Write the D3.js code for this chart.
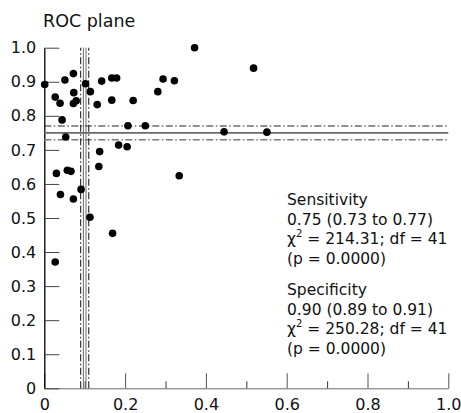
<!DOCTYPE html>
<html lang="en">
<head>
    <meta charset="UTF-8">
    <style>
        body { margin: 0; background: #fff; }
        text { font-family: "DejaVu Sans", sans-serif; fill: #111; }
    </style>
</head>
<body>
    <svg width="461" height="413"></svg>
    <script src="https://d3js.org/d3.v7.min.js"></script>
    <script>
        // study points: false positive rate (1 - specificity) and sensitivity
        let fpr = [0.001, 0.027, 0.039, 0.051, 0.072, 0.073, 0.072, 0.079, 0.044, 0.053,
            0.030, 0.057, 0.066, 0.040, 0.072, 0.091, 0.102, 0.114, 0.131, 0.142,
            0.137, 0.135, 0.167, 0.179, 0.167, 0.220, 0.184, 0.205, 0.207, 0.250,
            0.281, 0.294, 0.322, 0.334, 0.372, 0.445, 0.518, 0.551, 0.113, 0.169, 0.027]
        let sens = [0.892, 0.855, 0.837, 0.905, 0.924, 0.868, 0.836, 0.844, 0.788, 0.738,
            0.631, 0.640, 0.637, 0.569, 0.556, 0.584, 0.894, 0.871, 0.833, 0.902,
            0.695, 0.651, 0.911, 0.911, 0.846, 0.845, 0.714, 0.709, 0.771, 0.771,
            0.871, 0.908, 0.903, 0.624, 1.000, 0.753, 0.940, 0.752, 0.502, 0.455, 0.371]

        // pooled estimates (lower, point, upper)
        let sensPooled = [0.73, 0.75, 0.77]
        let fprPooled = [0.09, 0.10, 0.11]   // 1 - specificity (0.91, 0.90, 0.89)

        let yTicks = [0, 0.1, 0.2, 0.3, 0.4, 0.5, 0.6, 0.7, 0.8, 0.9, 1.0]
        let xMajor = [0, 0.2, 0.4, 0.6, 0.8, 1.0]
        let xMinor = [0.1, 0.3, 0.5, 0.7, 0.9]

        let sensText = ["Sensitivity", "0.75 (0.73 to 0.77)", "χ|2| = 214.31; df = 41", "(p = 0.0000)"]
        let specText = ["Specificity", "0.90 (0.89 to 0.91)", "χ|2| = 250.28; df = 41", "(p = 0.0000)"]

        let svg = d3.select("svg")
        let x = d3.scaleLinear().domain([0, 1]).range([44.3, 448.3])
        let y = d3.scaleLinear().domain([0, 1]).range([388.3, 47.7])

        let fmt = d => d === 0 ? "0" : d3.format(".1f")(d)

        // x axis (gray), ticks pointing up
        let gx = svg.append("g").attr("transform", `translate(0,${y(0)})`)
            .call(d3.axisBottom(x).tickValues(xMajor).tickSize(-15).tickSizeOuter(0)
                .tickPadding(10).tickFormat(fmt))
        gx.select(".domain").attr("stroke", "#6a6a6a")
        gx.selectAll(".tick line").attr("stroke", "#555")
        gx.selectAll("text").attr("font-size", 16).attr("font-family", "DejaVu Sans").attr("fill", "#111")

        let gxm = svg.append("g").attr("transform", `translate(0,${y(0)})`)
            .call(d3.axisBottom(x).tickValues(xMinor).tickSize(-7).tickSizeOuter(0).tickFormat(""))
        gxm.select(".domain").remove()
        gxm.selectAll(".tick line").attr("stroke", "#333")

        // y axis (black), ticks pointing right
        let gy = svg.append("g").attr("transform", `translate(${x(0)},0)`)
            .call(d3.axisLeft(y).tickValues(yTicks).tickSize(-15).tickSizeOuter(0)
                .tickPadding(8).tickFormat(fmt))
        gy.select(".domain").attr("stroke", "#000").attr("stroke-width", 1.3)
        gy.selectAll(".tick line").attr("stroke", "#444")
        gy.selectAll("text").attr("font-size", 16).attr("font-family", "DejaVu Sans").attr("fill", "#111")

        // title
        svg.append("text").attr("x", 43).attr("y", 27).attr("font-size", 17.5).text("ROC plane")

        // pooled sensitivity lines
        let dashDot = "7,2.5,1.5,2.5"
        svg.append("line")
            .attr("x1", x(0)).attr("x2", x(1))
            .attr("y1", y(sensPooled[2])).attr("y2", y(sensPooled[2]))
            .attr("stroke", "#222").attr("stroke-width", 1.1).attr("stroke-dasharray", dashDot)
        svg.append("line")
            .attr("x1", x(0)).attr("x2", x(1))
            .attr("y1", y(sensPooled[1])).attr("y2", y(sensPooled[1]))
            .attr("stroke", "#6a6a6a").attr("stroke-width", 1.6)
        svg.append("line")
            .attr("x1", x(0)).attr("x2", x(1))
            .attr("y1", y(sensPooled[0])).attr("y2", y(sensPooled[0]))
            .attr("stroke", "#7a7a7a").attr("stroke-width", 1.5).attr("stroke-dasharray", dashDot)

        // pooled specificity lines (as 1 - specificity)
        svg.append("line")
            .attr("x1", x(fprPooled[0])).attr("x2", x(fprPooled[0]))
            .attr("y1", y(0)).attr("y2", y(1))
            .attr("stroke", "#222").attr("stroke-width", 1.1).attr("stroke-dasharray", dashDot)
        svg.append("line")
            .attr("x1", x(fprPooled[2])).attr("x2", x(fprPooled[2]))
            .attr("y1", y(0)).attr("y2", y(1))
            .attr("stroke", "#222").attr("stroke-width", 1.1).attr("stroke-dasharray", dashDot)
        ;[-1.3, 1.3].forEach(function (off) {
            svg.append("line")
                .attr("x1", x(fprPooled[1]) + off).attr("x2", x(fprPooled[1]) + off)
                .attr("y1", y(0)).attr("y2", y(1))
                .attr("stroke", "#6a6a6a").attr("stroke-width", 1)
        })

        // study points
        svg.selectAll("circle.pt")
            .data(fpr)
            .enter()
            .append("circle")
            .attr("class", "pt")
            .attr("cx", d => x(d))
            .attr("cy", (d, i) => y(sens[i]))
            .attr("r", 3.8)
            .attr("fill", "#000")

        // summary text blocks
        function textBlock(lines, top) {
            let t = svg.append("text").attr("x", 287).attr("y", top).attr("font-size", 15.5)
            lines.forEach(function (line, i) {
                let parts = line.split("|")
                let ts = t.append("tspan").attr("x", 287).attr("y", top + i * 19.7).text(parts[0])
                if (parts.length > 1) {
                    t.append("tspan").attr("font-size", 10).attr("dy", -7).text(parts[1])
                    t.append("tspan").attr("dy", 7).text(parts[2])
                }
            })
        }
        textBlock(sensText, 205)
        textBlock(specText, 295)
    </script>
</body>
</html>
